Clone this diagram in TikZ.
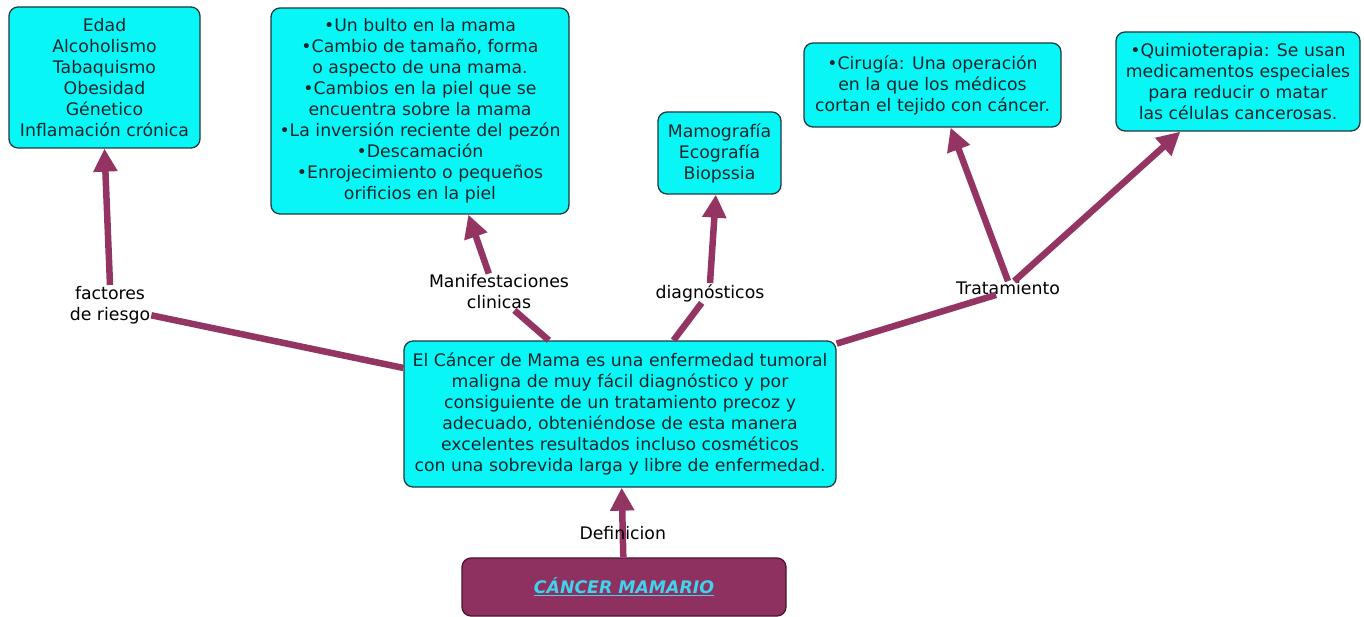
\documentclass[tikz,border=0pt]{standalone}
\usepackage{fontspec}
\setmainfont{DejaVu Sans}
\usetikzlibrary{arrows.meta}
\definecolor{boxfill}{HTML}{08F6F6}
\definecolor{boxdraw}{HTML}{1C3A40}
\definecolor{linkc}{HTML}{933462}
\definecolor{rootfill}{HTML}{8E3060}
\definecolor{rootdraw}{HTML}{4A1530}
\definecolor{roottext}{HTML}{40D4EC}
\definecolor{txt}{HTML}{10262C}
\begin{document}
\begin{tikzpicture}[x=1pt,y=-1pt,
 concept/.style={draw=boxdraw, line width=1.3pt, fill=boxfill, rounded corners=9pt, align=center, inner sep=0pt, text=txt, font=\fontsize{17.3}{21}\selectfont},
 lbl/.style={align=center, inner sep=1pt, text=black, font=\fontsize{17.3}{21}\selectfont},
 link/.style={draw=linkc, line width=6.5pt},
 arr/.style={link, -{Triangle[length=23pt,width=23pt]}}]
\useasboundingbox (0,0) rectangle (1364,617);

\node[concept, minimum width=191pt, minimum height=141pt] (b1) at (104.5,77.5)
 {Edad\\Alcoholismo\\Tabaquismo\\Obesidad\\Génetico\\Inflamación crónica};
\node[concept, minimum width=298pt, minimum height=206pt] (b2) at (420,111)
 {•Un bulto en la mama\\•Cambio de tamaño, forma\\o aspecto de una mama.\\•Cambios en la piel que se\\encuentra sobre la mama\\•La inversión reciente del pezón\\•Descamación\\•Enrojecimiento o pequeños\\orificios en la piel};
\node[concept, minimum width=123pt, minimum height=82pt] (b3) at (719.5,153)
 {Mamografía\\Ecografía\\Biopssia};
\node[concept, minimum width=257pt, minimum height=84pt] (b4) at (932.5,85)
 {•Cirugía: Una operación\\en la que los médicos\\cortan el tejido con cáncer.};
\node[concept, minimum width=244pt, minimum height=99pt] (b5) at (1238,81.5)
 {•Quimioterapia: Se usan\\medicamentos especiales\\para reducir o matar\\las células cancerosas.};
\node[concept, minimum width=432pt, minimum height=146pt] (c) at (620,414)
 {El Cáncer de Mama es una enfermedad tumoral\\maligna de muy fácil diagnóstico y por\\consiguiente de un tratamiento precoz y\\adecuado, obteniéndose de esta manera\\excelentes resultados incluso cosméticos\\con una sobrevida larga y libre de enfermedad.};
\node[concept, fill=rootfill, draw=rootdraw, text=roottext, minimum width=324pt, minimum height=58pt] (root) at (624,587)
 {\textbf{\textit{\underline{CÁNCER MAMARIO}}}};

\node[lbl] (lf) at (110,305) {factores\\de riesgo};
\node[lbl] (lm) at (499,292) {Manifestaciones\\clinicas};
\node[lbl] (ld) at (710,293) {diagnósticos};
\node[lbl, inner sep=0pt] (lt) at (1008,288) {Tratamiento};

\draw[link] (c.168) -- (lf.-14);
\draw[arr] (lf.north) -- (b1.south);
\draw[link] (c.134) -- (lm.-50);
\draw[arr] (lm.119) -- (b2.-65.7);
\draw[link] (c.54.5) -- (ld.-130);
\draw[arr] (ld.north) -- (b3.-95);
\draw[link] (c.18) -- (lt.-150);
\draw[arr] (lt.north) -- (b4.-67.4);
\draw[arr] (lt.48) -- (b5.-139.5);
\draw[arr] (root) -- node[lbl, pos=0.35] {Definicion} (c);
\end{tikzpicture}
\end{document}
